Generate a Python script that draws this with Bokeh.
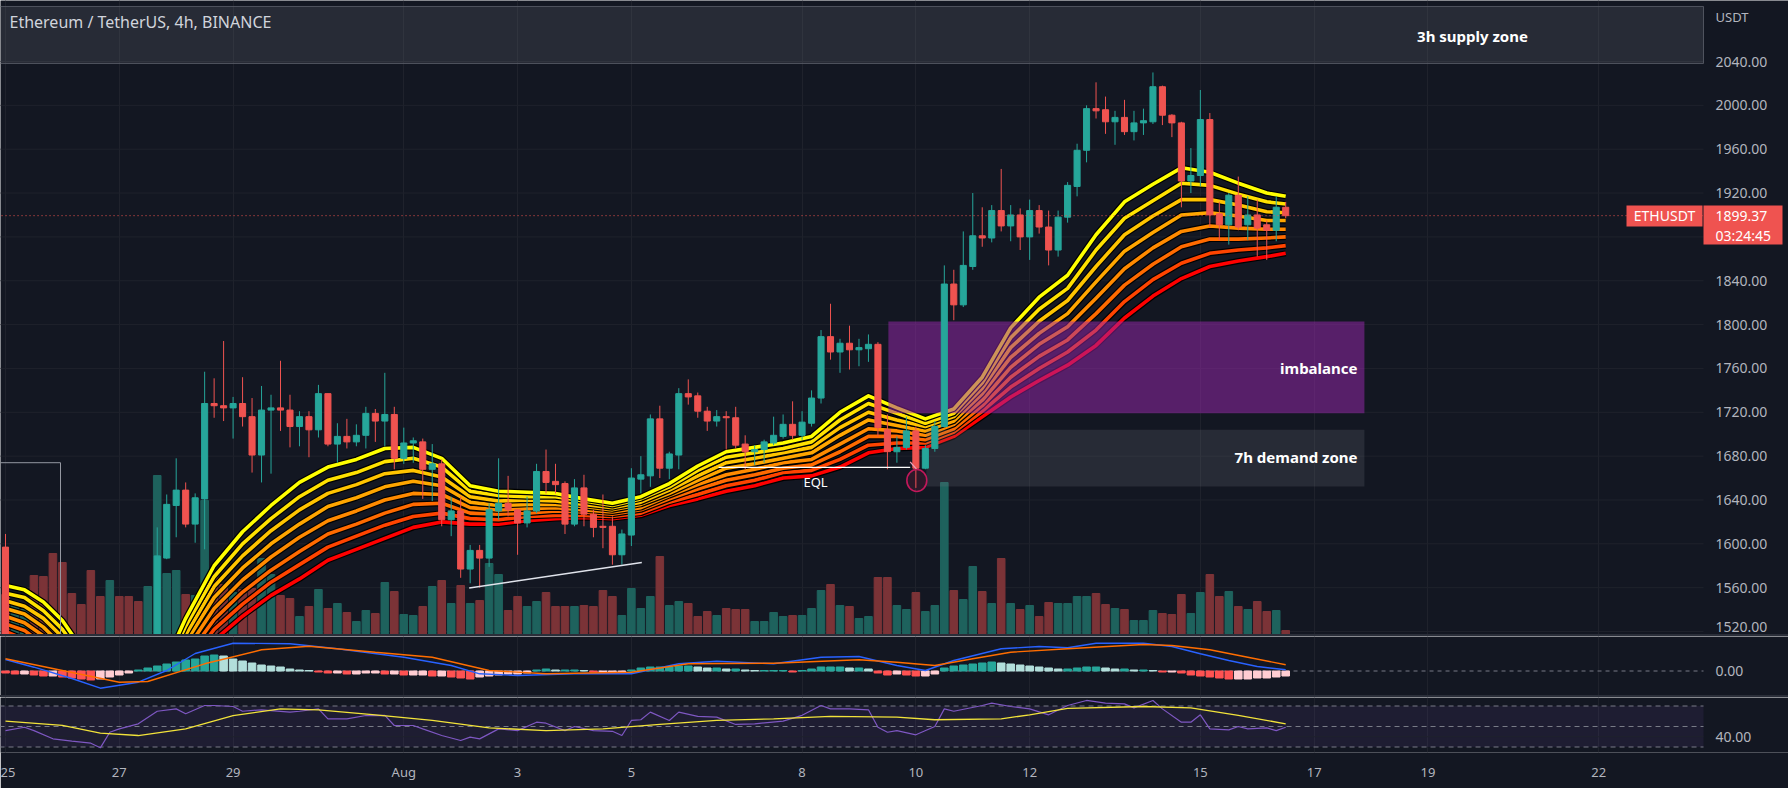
from bokeh.plotting import figure
from bokeh.layouts import column
from bokeh.models import (Range1d, FixedTicker, Label, ColumnDataSource, Div, Grid)
from bokeh.embed import file_html
from bokeh.resources import INLINE

# ---------------- data (bar index = 4h bars from 25 Jul 00:00) ----------------
bar_index = [0] + list(range(16, 136))
open_ = [1597,
 1500,1587,1635,1649,1618,1641,1728,1726,1724,1728,
 1716,1681,1722,1724,1722,1707,1716,1704,1737,1691,
 1698,1693,1699,1719,1712,1718,1678,1692,1693,1668,
 1673,1622,1630,1577,1594,1587,1630,1637,1631,1619,
 1630,1666,1657,1655,1618,1651,1627,1616,1616,1590,
 1608,1659,1662,1714,1669,1681,1737,1735,1721,1712,
 1716,1715,1691,1684,1686,1692,1698,1709,1699,1710,
 1733,1789,1775,1783,1777,1778,1782,1704,1684,1688,
 1703,1669,1687,1707,1837,1818,1853,1881,1879,1904,
 1890,1900,1880,1904,1889,1868,1898,1926,1959,1997,
 1996,1985,1989,1976,1984,1985,2017,1991,1984,1931,
 1936,1987,1901,1891,1918,1891,1900,1891,1886,1907]
high = [1609,
 1615,1645,1678,1656,1646,1757,1751,1785,1734,1752,
 1733,1744,1736,1767,1736,1721,1721,1745,1737,1710,
 1714,1709,1725,1723,1756,1725,1706,1697,1696,1691,
 1677,1643,1643,1599,1599,1637,1678,1662,1631,1643,
 1673,1686,1673,1657,1659,1663,1631,1645,1625,1613,
 1669,1680,1718,1726,1684,1742,1750,1738,1725,1722,
 1721,1725,1699,1690,1695,1716,1718,1730,1721,1740,
 1795,1819,1787,1799,1787,1791,1784,1718,1698,1716,
 1707,1690,1712,1854,1850,1885,1920,1907,1909,1942,
 1909,1906,1914,1909,1904,1904,1930,1965,2000,2021,
 2008,1995,2005,1995,1997,2030,2018,1992,1985,1961,
 2014,1993,1912,1920,1935,1917,1914,1895,1917,1912]
low = [1500,
 1495,1586,1606,1615,1601,1595,1715,1712,1696,1707,
 1665,1656,1664,1703,1688,1689,1679,1697,1689,1674,
 1687,1689,1687,1693,1689,1668,1673,1674,1641,1639,
 1616,1607,1569,1564,1560,1579,1622,1625,1590,1615,
 1628,1646,1646,1609,1616,1616,1606,1596,1581,1581,
 1598,1646,1652,1660,1659,1668,1727,1715,1703,1707,
 1686,1687,1668,1672,1674,1690,1696,1695,1695,1707,
 1728,1768,1756,1759,1762,1766,1698,1668,1674,1686,
 1651,1668,1684,1706,1804,1816,1850,1871,1875,1885,
 1876,1868,1859,1883,1854,1862,1893,1917,1948,1988,
 1974,1964,1973,1968,1973,1983,1982,1971,1907,1920,
 1926,1889,1877,1873,1886,1877,1862,1859,1876,1897]
close = [1505,
 1589,1636,1649,1618,1642,1728,1726,1724,1728,1716,
 1681,1722,1724,1722,1707,1716,1704,1737,1691,1698,
 1693,1699,1719,1712,1718,1678,1692,1694,1668,1673,
 1622,1630,1577,1594,1587,1631,1637,1631,1619,1630,
 1666,1656,1654,1618,1651,1627,1615,1615,1590,1609,
 1660,1663,1714,1669,1682,1737,1734,1721,1712,1716,
 1715,1690,1684,1686,1693,1699,1709,1699,1711,1733,
 1789,1775,1783,1777,1779,1782,1706,1684,1688,1703,
 1669,1687,1707,1837,1818,1854,1881,1879,1904,1890,
 1900,1880,1904,1889,1868,1898,1927,1959,1997,1995,
 1985,1989,1976,1984,1986,2017,1991,1984,1931,1936,
 1987,1900,1891,1918,1889,1900,1888,1886,1907,1899.37]

# volume for bars 0..135 (relative units)
volume = [40,30,25,59,58,81,72,41,30,64,
 38,54,38,38,33,48,159,61,64,40,
 39,134,61,50,42,45,46,76,60,39,
 36,18,28,45,26,31,22,13,24,21,
 52,43,20,19,28,48,54,31,49,31,
 34,71,60,24,38,28,33,42,28,28,
 28,29,28,44,38,19,46,26,38,78,
 29,33,31,18,23,19,26,25,25,13,
 13,22,18,19,19,26,44,50,29,28,
 16,18,57,57,29,25,42,23,29,152,
 44,35,68,43,31,76,31,25,29,18,
 32,31,31,38,38,41,30,26,25,14,
 14,24,21,20,40,21,42,60,38,43,
 28,25,33,23,24,4]
early_volume_up = [0,1,1,0,0,0,0,0,0,0,0,1,0,0,0,1]   # bars 0..15

# EMA ribbon, read at sample bars
ribbon_x = [0,2,4,6,8,16,19,22,25,28,31,34,37,40,43,46,49,52,55,58,61,64,67,70,73,76,
            79,82,85,88,91,94,97,100,103,106,109,112,115,118,121,124,127,130,133,135]
ema_1 = [1562,1558,1547,1530,1505,1475,1532,1580,1611,1635,1656,1670,1677,1687,1688,1678,1653,1648,1647,1646,1641,1637,1643,1655,1671,1684,
         1688,1692,1698,1720,1735,1724,1714,1723,1752,1797,1825,1845,1882,1912,1928,1943,1939,1929,1920,1917]
ema_2 = [1555,1551,1539,1522,1498,1470,1525,1570,1600,1623,1643,1658,1665,1675,1678,1670,1648,1644,1643,1643,1639,1635,1641,1652,1667,1679,
         1683,1687,1693,1713,1728,1719,1710,1719,1747,1788,1814,1833,1868,1897,1913,1929,1927,1919,1912,1910]
ema_3 = [1548,1543,1532,1515,1491,1465,1517,1561,1589,1612,1631,1646,1654,1664,1667,1661,1643,1639,1640,1639,1636,1633,1638,1649,1662,1674,
         1678,1683,1688,1706,1720,1713,1707,1716,1742,1779,1803,1822,1853,1882,1899,1914,1914,1909,1903,1902]
ema_4 = [1541,1536,1524,1507,1484,1460,1510,1551,1578,1600,1618,1634,1642,1652,1657,1653,1638,1635,1636,1636,1634,1631,1636,1646,1658,1669,
         1673,1678,1683,1699,1713,1708,1703,1712,1737,1770,1792,1810,1839,1867,1884,1900,1902,1899,1895,1895]
ema_5 = [1534,1528,1516,1499,1476,1455,1502,1541,1567,1588,1606,1621,1630,1640,1646,1645,1633,1631,1632,1633,1631,1629,1633,1644,1654,1663,
         1668,1674,1677,1691,1705,1703,1699,1709,1731,1761,1782,1798,1824,1851,1870,1885,1890,1888,1887,1887]
ema_6 = [1527,1521,1508,1491,1469,1450,1495,1531,1556,1576,1593,1609,1618,1628,1636,1637,1628,1627,1628,1630,1629,1627,1631,1641,1650,1658,
         1663,1669,1672,1684,1698,1698,1695,1705,1726,1752,1771,1786,1810,1836,1855,1871,1878,1878,1879,1880]
ema_7 = [1520,1513,1501,1484,1462,1445,1487,1522,1545,1565,1581,1597,1607,1617,1625,1628,1623,1622,1625,1626,1626,1625,1628,1638,1645,1653,
         1658,1665,1667,1677,1690,1692,1692,1702,1721,1743,1760,1775,1795,1821,1841,1856,1865,1868,1870,1872]
ema_8 = [1513,1506,1493,1476,1455,1440,1480,1512,1534,1553,1568,1585,1595,1605,1615,1620,1618,1618,1621,1623,1624,1623,1626,1635,1641,1648,
         1653,1660,1662,1670,1683,1687,1688,1698,1716,1734,1749,1763,1781,1806,1826,1842,1853,1858,1862,1865]

# MACD (12, 26, 9)
macd_x = [0,3,7,10,14,17,20,24,30,35,42,47,50,54,60,66,71,75,81,86,90,94,97,100,105,109,112,115,120,123,126,129,132,135]
macd_line = [11.5,3.8,-7.5,-17.2,-11.2,0.5,17.5,27.8,27.2,22.2,13.8,5.5,-2.8,-4.5,-2.8,-2.8,7.2,9.8,7.2,13.8,14.5,5.5,0.5,10.5,
             22.2,24.5,23.2,27.8,27.8,24.5,17.2,10.5,4.5,1.2]
signal_x = [0,6,12,15,21,27,32,39,45,51,57,66,72,81,90,94,98,102,106,112,120,123,127,131,135]
signal_line = [12.2,0.5,-11.2,-10.5,7.2,21.2,24.8,18.8,13.8,0.5,-2.8,-1.2,7.2,7.8,11.2,8.8,5.5,12.2,18.8,22.2,26.5,25.5,21.2,13.8,6.2]
macd_hist = [-2,-3,-3,-4,-5,-5,-6,-7,-8,-9,
 -8,-6,-4,-2,1,3,5,7,9,11,
 12,15,16,15,12,10,8,6,5,4,
 2,1,0.5,-1,-2,-2,-3,-3,-2,-2,
 -3,-3,-4,-4,-4,-5,-5,-6,-7,-8,
 -6,-5,-4,-3,-3,-2,1,2,1,1,
 1,0.5,-1,-1,-1,-1,1,3,4,4,
 4,5,5,4,3,3,2,2,1,0.5,
 0.5,0.5,0.5,-1,0.5,2,4,4,4,3,
 3,2,-2,-4,-3,-4,-5,-5,-3,3,
 5,6,7,8,9,8,7,6,5,4,
 3,2,2,3,4,4,3,2,2,1,
 1,0.5,-1,-1,-2,-4,-5,-6,-7,-8,
 -8,-8,-7,-7,-6,-5]

# RSI (14) and its moving average
rsi_x = [0,2,3,5,7,9,10,11,12,14,16,18,19,21,22,24,25,27,30,31,33,34,36,38,40,41,43,44,46,48,49,50,52,54,56,57,59,60,62,64,65,
         66,67,68,70,71,73,75,77,79,82,84,86,87,89,91,92,93,94,96,98,99,100,103,104,106,108,110,112,114,116,118,119,121,122,
         124,125,126,127,129,130,131,133,134,135]
rsi = [46,49.3,46,38,35.7,33.7,29.2,44.4,47.7,52.6,64.9,67.2,62.4,70.5,70.5,69.5,64.9,66.3,64,64.9,67.2,57.5,57.5,60.7,60.9,51,51,
       47.7,41.2,36.3,39.6,37.9,47.7,46,54.2,53.2,46,50,46,45.3,41.2,
       55.9,56.6,64,55.9,64,59.8,59.1,52,52.6,55.3,60.9,70.5,67.2,67.2,66.3,49.3,44.4,46,41.9,50,67.2,64.9,70.5,72.8,69.5,67.2,
       61.4,70.5,75.4,72.8,72.1,68.2,75.4,67.2,54.2,54.2,61.4,47.7,46.7,50,47.7,48.7,46,49.3]
rsi_ma_x = [0,6,10,14,19,24,29,33,39,45,51,57,63,69,75,81,87,94,98,105,108,112,120,125,130,135]
rsi_ma = [55.2,51,43.5,41.2,47.7,60.7,67.2,66.3,61.4,55.9,48.7,46,47.7,52,55.9,57.5,59.8,59.1,56.6,57.5,61.4,67.6,69.5,68.2,60.9,52.6]

# axis ticks
price_ticks = [1520,1560,1600,1640,1680,1720,1760,1800,1840,1880,1920,1960,2000,2040]
macd_ticks = [0]
rsi_ticks = [40]
rsi_levels = [70, 50, 30]
day_ticks = [0,12,24,42,54,66,84,96,108,126,138,150,168]
day_labels = ["25","27","29","Aug","3","5","8","10","12","15","17","19","22"]
last_price = 1899.37
countdown = "03:24:45"

# zones / drawings (bar index, price)
supply_zone = (2038.2, 2090.2)
imbalance_zone = (93.1, 143.3, 1719.2, 1802.8)
demand_zone = (97.1, 143.3, 1652.3, 1704.0)
eql_level = (75.2, 95.4, 1669.8)
trend_line = (48.9, 1559.6, 67.1, 1583.0)

# ---------------- styling ----------------
BG = "#131722"
GRID_C = "#1f222c"
TEXT_C = "#b2b5be"
UP_C = "#26a69a"
DN_C = "#ef5350"
VOL_UP = "#1e625d"
VOL_DN = "#7b3337"
FONT = "Noto Sans"
W = 1788
PLOT_W = 1703          # plot area; the rest is the price-scale strip
RIB_COLORS = ["#ffff00", "#ffe100", "#ffc400", "#ffa600", "#ff8a00", "#ff6a00", "#ff4400", "#ff0000"]


def ref_x(r):
    return (r - 5) / 9.483


def ref_price(r):
    return 2040 - (r - 61) / 1.0962


X_START, X_END = ref_x(0), ref_x(PLOT_W)
SCALE_X = ref_x(1715)
xr = Range1d(X_START, ref_x(W))
TAG_TOP, TAG_BOTTOM = ref_price(205), ref_price(244)


def make_fig(height, y0, y1, bottom=0, xaxis=False):
    p = figure(width=W, height=height, x_range=xr, y_range=Range1d(y0, y1),
               output_backend="svg", toolbar_location=None,
               x_axis_location="below" if xaxis else None, y_axis_location=None,
               min_border_left=0, min_border_right=0, min_border_top=0, min_border_bottom=bottom)
    p.background_fill_color = BG
    p.border_fill_color = BG
    p.outline_line_color = None
    for g in p.grid:
        g.visible = False
    p.add_layout(Grid(dimension=0, ticker=FixedTicker(ticks=day_ticks), grid_line_color=GRID_C))
    return p


def add_text(p, x, y, text, size="14px", color="#ffffff", align="left", style="normal"):
    p.add_layout(Label(x=x, y=y, text=text, text_font=FONT, text_font_size=size, text_color=color,
                       text_font_style=style, text_baseline="middle", text_align=align))


def hlines(p, ys, color, dash="solid"):
    n = len(ys)
    p.segment(x0=[X_START - 2] * n, x1=[X_END] * n, y0=ys, y1=ys, line_color=color, line_dash=dash, line_width=1)


# ---------------- price pane ----------------
p1 = make_fig(634, ref_price(634), ref_price(0))
p1.extra_y_ranges = {"vol": Range1d(0, 634)}
hlines(p1, price_ticks, GRID_C)

ohlc = {b: (o, c) for b, o, c in zip(bar_index, open_, close)}
vol_col = []
for b in range(len(volume)):
    up = (ohlc[b][1] >= ohlc[b][0]) if b in ohlc else bool(early_volume_up[b])
    vol_col.append(VOL_UP if up else VOL_DN)
p1.vbar(x=list(range(len(volume))), top=volume, width=0.8, color=vol_col, y_range_name="vol")

ribbon = [ema_1, ema_2, ema_3, ema_4, ema_5, ema_6, ema_7, ema_8]
for k in reversed(range(8)):
    p1.line(ribbon_x, ribbon[k], color="#000000", line_width=6, line_join="round")
    p1.line(ribbon_x, ribbon[k], color=RIB_COLORS[k], line_width=3.6, line_join="round")

# zones
p1.quad(left=[X_START - 2], right=[X_END], bottom=[supply_zone[0]], top=[supply_zone[1]],
        fill_color="#787b86", fill_alpha=0.2, line_color="#5d606b", line_alpha=0.8, line_width=1)
p1.quad(left=[imbalance_zone[0]], right=[imbalance_zone[1]], bottom=[imbalance_zone[2]], top=[imbalance_zone[3]],
        fill_color="#9c27b0", fill_alpha=0.5, line_color=None)
p1.quad(left=[demand_zone[0]], right=[demand_zone[1]], bottom=[demand_zone[2]], top=[demand_zone[3]],
        fill_color="#787b86", fill_alpha=0.2, line_color=None)

# left outlined box
p1.segment(x0=[X_START - 2, 5.8], y0=[1674, 1674], x1=[5.8, 5.8], y1=[1674, 1480],
           line_color="#9598a1", line_width=1)

# candles
cs = ColumnDataSource(dict(
    x=bar_index, h=high, l=low,
    top=[max(o, c) for o, c in zip(open_, close)],
    bot=[min(o, c) for o, c in zip(open_, close)],
    col=[UP_C if c >= o else DN_C for o, c in zip(open_, close)]))
p1.segment(x0="x", y0="l", x1="x", y1="h", source=cs, line_color="col", line_width=1)
p1.vbar(x="x", width=0.64, top="top", bottom="bot", source=cs, fill_color="col", line_color="col", line_width=1)

# drawings
p1.segment(x0=[eql_level[0]], y0=[eql_level[2]], x1=[eql_level[1]], y1=[eql_level[2]], line_color="#ffffff", line_width=1.3)
p1.segment(x0=[eql_level[1]], y0=[eql_level[2] + 5], x1=[eql_level[1] + 0.7], y1=[eql_level[2] - 2],
           line_color="#e8a0b8", line_width=1.3)
p1.ellipse(x=[96.1], y=[1657.8], width=2.1, height=20, fill_color="#e91e63", fill_alpha=0.12,
           line_color="#c2185b", line_width=1.6)
p1.segment(x0=[trend_line[0]], y0=[trend_line[1]], x1=[trend_line[2]], y1=[trend_line[3]],
           line_color="#e0e3eb", line_width=1.5)

# last price line and tags
hlines(p1, [last_price], DN_C, dash="1 3")
p1.quad(left=[ref_x(1626)], right=[ref_x(1702)], bottom=[ref_price(226)], top=[TAG_TOP],
        fill_color=DN_C, line_color=None)
p1.quad(left=[ref_x(1703)], right=[ref_x(1782)], bottom=[TAG_BOTTOM], top=[TAG_TOP],
        fill_color=DN_C, line_color=None)
add_text(p1, ref_x(1664), last_price, "ETHUSDT", align="center")
add_text(p1, SCALE_X, ref_price(215), f"{last_price:.2f}")
add_text(p1, SCALE_X, ref_price(235), countdown)

# price scale labels (the one under the price tag is hidden, as on the chart)
for t in price_ticks:
    if TAG_BOTTOM - 6 < t < TAG_TOP + 6:
        continue
    yy = t if t > 1530 else ref_price(626)
    add_text(p1, SCALE_X, yy, f"{t:.2f}", color=TEXT_C)
add_text(p1, SCALE_X, ref_price(16), "USDT", size="13px", color=TEXT_C)

# texts
add_text(p1, ref_x(9), ref_price(21), "Ethereum / TetherUS, 4h, BINANCE", size="16px", color="#d1d4dc")
add_text(p1, ref_x(1472), ref_price(35), "3h supply zone", size="15px", align="center", style="bold")
add_text(p1, ref_x(1357), ref_price(367), "imbalance", size="15px", align="right", style="bold")
add_text(p1, ref_x(1357), ref_price(456), "7h demand zone", size="15px", align="right", style="bold")
add_text(p1, ref_x(815), ref_price(481), "EQL", size="13px", align="center")

# ---------------- MACD pane ----------------
p2 = make_fig(59, 670.5 - 695, 670.5 - 636)
hist_col = []
prev = 0
for v in macd_hist:
    if v >= 0:
        hist_col.append("#26a69a" if v >= prev else "#b2dfdb")
    else:
        hist_col.append("#ff5252" if v < prev else "#ffcdd2")
    prev = v
hlines(p2, macd_ticks, "#787b86", dash="4 4")
p2.vbar(x=list(range(len(macd_hist))), top=macd_hist, bottom=0, width=0.8, color=hist_col)
p2.line(macd_x, macd_line, color="#2962ff", line_width=1.4)
p2.line(signal_x, signal_line, color="#ff6d00", line_width=1.4)
for t in macd_ticks:
    add_text(p2, SCALE_X, t, f"{t:.2f}", color=TEXT_C)

# ---------------- RSI pane ----------------
p3 = make_fig(91, 50 - (752 - 726) / 1.025, 50 + (726 - 697) / 1.025, bottom=36, xaxis=True)
p3.quad(left=[X_START - 2], right=[X_END], bottom=[30], top=[70], fill_color="#7e57c2", fill_alpha=0.1, line_color=None)
hlines(p3, rsi_ticks, GRID_C)
hlines(p3, rsi_levels, "#787b86", dash="5 4")
p3.line(rsi_x, rsi, color="#7e57c2", line_width=1.2)
p3.line(rsi_ma_x, rsi_ma, color="#f2e33a", line_width=1.3)
for t in rsi_ticks:
    add_text(p3, SCALE_X, t, f"{t:.2f}", color=TEXT_C)
xa = p3.xaxis[0]
xa.ticker = FixedTicker(ticks=day_ticks)
xa.major_label_overrides = {t: s for t, s in zip(day_ticks, day_labels)}
xa.axis_line_color = None
xa.major_tick_line_color = None
xa.minor_tick_line_color = None
xa.major_tick_out = 0
xa.major_label_standoff = 10
xa.major_label_text_color = TEXT_C
xa.major_label_text_font = FONT
xa.major_label_text_font_size = "13px"


def sep():
    return Div(text="", width=W, height=2, margin=0, styles={"background-color": "#2a2e39"})


layout = column(p1, sep(), p2, sep(), p3, spacing=0)
open("out.html", "w").write(file_html(layout, INLINE))
